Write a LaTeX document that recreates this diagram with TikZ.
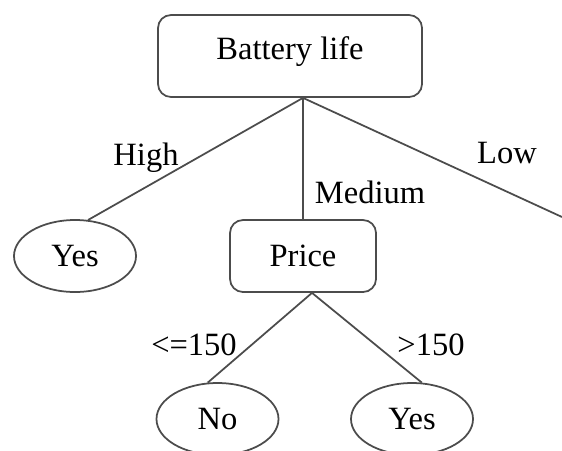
\documentclass[tikz,border=0pt]{standalone}
\usepackage{fontspec}
\setmainfont{Liberation Serif}
\usepackage{tikz}
\usetikzlibrary{shapes.geometric}

\begin{document}
\begin{tikzpicture}[font=\fontsize{18.5}{22}\selectfont,
  attr/.style={draw=black!70, line width=1pt, rounded corners=0.26cm, inner sep=0pt},
  leaf/.style={draw=black!70, line width=1pt, ellipse, minimum width=2.44cm, minimum height=1.44cm, inner sep=0pt},
  branch/.style={draw=black!70, line width=1pt},
  lbl/.style={anchor=base, inner sep=0pt}]
 \useasboundingbox (0,0) rectangle (11.24,-9);
 \draw (5.8,-1.12) node[attr, minimum width=5.28cm, minimum height=1.64cm, text depth=0.33cm] (battery) {Battery life};
  \draw (6.06,-5.12) node[attr, minimum width=2.92cm, minimum height=1.44cm] (price) {Price};
    \draw (1.5,-5.12) node[leaf] (yes1) {Yes};
    \draw (4.35,-8.38) node[leaf] (no) {No};
    \draw (8.24,-8.38) node[leaf] (yes2) {Yes};

	\coordinate (top) at (battery.south -| price.north);
	\coordinate (pbot) at ([xshift=0.18cm]price.south);
	\coordinate (lowend) at (11.24,-4.34);

	\draw (2.92,-3.30) node[lbl] (high) {High};
	\draw (7.40,-4.06) node[lbl] (medium) {Medium};
	\draw (10.14,-3.26) node[lbl] (low) {Low};
	\draw (3.88,-7.10) node[lbl] (le150) {<=150};
	\draw (8.62,-7.10) node[lbl] (gt150) {>150};

     \path[branch] (top) edge (yes1.70);
     \path[branch] (top) edge (price.north);
     \path[branch] (top) edge (lowend);
     \path[branch] (pbot) edge (no.105);
     \path[branch] (pbot) edge (yes2.75);
\end{tikzpicture}
\end{document}
